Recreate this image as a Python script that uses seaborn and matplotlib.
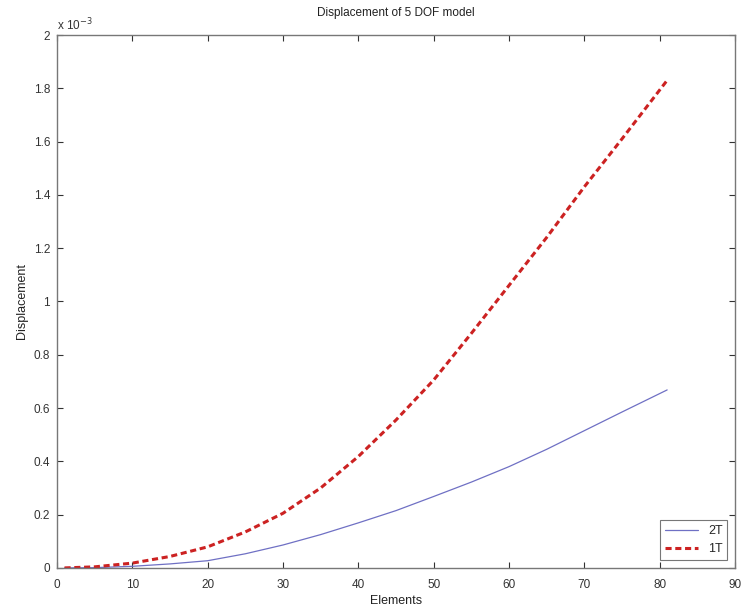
import numpy as np
import pandas as pd
import matplotlib
matplotlib.use("Agg")
import matplotlib.pyplot as plt
from matplotlib.ticker import FuncFormatter
import seaborn as sns

# Data (displacement values, in units of 1e-3)
elements = [1, 5, 10, 15, 20, 25, 30, 35, 40, 45, 50, 55, 60, 65, 70, 75, 81]
disp_2T = [0.0, 0.001, 0.006, 0.015, 0.027, 0.053, 0.086, 0.125, 0.169, 0.215,
           0.268, 0.322, 0.380, 0.445, 0.515, 0.585, 0.668]
disp_1T = [0.0, 0.004, 0.018, 0.043, 0.079, 0.135, 0.205, 0.300, 0.418, 0.555,
           0.705, 0.880, 1.060, 1.240, 1.430, 1.610, 1.830]
scale = 1e-3
series_names = ["2T", "1T"]
title = "Displacement of 5 DOF model"
x_label = "Elements"
y_label = "Displacement"
x_ticks = [0, 10, 20, 30, 40, 50, 60, 70, 80, 90]
y_ticks = [0, 0.2, 0.4, 0.6, 0.8, 1.0, 1.2, 1.4, 1.6, 1.8, 2.0]

sns.set_style("ticks")
plt.rcParams['font.family'] = ['Liberation Sans', 'DejaVu Sans']
plt.rcParams['xtick.direction'] = 'in'
plt.rcParams['ytick.direction'] = 'in'

df = pd.DataFrame({
    "Elements": elements * 2,
    "Displacement": [v * scale for v in disp_2T] + [v * scale for v in disp_1T],
    "Series": [series_names[0]] * len(elements) + [series_names[1]] * len(elements),
})

fig = plt.figure(figsize=(7.45, 6.10), dpi=100)
ax = fig.add_axes([0.0765, 0.069, 0.91, 0.8736])

sns.lineplot(data=df[df.Series == "2T"], x="Elements", y="Displacement",
             color="#6f70c4", linewidth=0.9, ax=ax, label="2T")
sns.lineplot(data=df[df.Series == "1T"], x="Elements", y="Displacement",
             color="#cc2222", linewidth=2.2, linestyle=(0, (2.0, 1.2)), ax=ax, label="1T")

ax.set_xlim(0, 90)
ax.set_ylim(0, 2e-3)
ax.set_xticks(x_ticks)
ax.set_yticks([t * scale for t in y_ticks])
ax.yaxis.set_major_formatter(FuncFormatter(lambda v, p: f"{v/scale:g}"))
ax.tick_params(axis='both', labelsize=8.5, colors='#333333', length=4, width=0.8,
               top=True, right=True)
ax.tick_params(axis='x', pad=8)
ax.tick_params(axis='y', pad=5)
for s in ax.spines.values():
    s.set_visible(True)
    s.set_color('#777777')
    s.set_linewidth(1.0)

ax.text(0.0, 1.004, r"x 10$^{-3}$", transform=ax.transAxes, fontsize=8.5,
        color='#333333', ha='left', va='bottom')
ax.set_title(title, fontsize=8.5, color='#222222', pad=14)
ax.set_xlabel(x_label, fontsize=9, color='#222222', labelpad=3)
ax.set_ylabel(y_label, fontsize=9, color='#222222', labelpad=4)

leg = ax.legend(loc='lower right', fontsize=9, frameon=True, fancybox=False,
                borderaxespad=0.6, handlelength=2.6, edgecolor='#555555')
leg.get_frame().set_linewidth(0.8)

fig.savefig("out.png", dpi=100, facecolor='white')
